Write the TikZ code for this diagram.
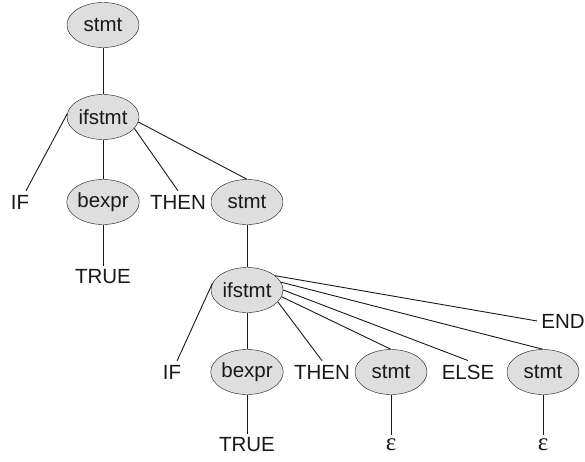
\documentclass[tikz,border=0pt]{standalone}
\usepackage{fontspec}
\setmainfont{Liberation Sans}
\newfontfamily\epsfont{Liberation Serif}
\usepackage{xcolor}
\usetikzlibrary{shapes,positioning}

\definecolor{nodegray}{RGB}{222,222,222}
\definecolor{inkgray}{RGB}{25,25,25}

\begin{document}
\begin{tikzpicture}[on grid, font=\fontsize{20.5}{24}\selectfont, color=inkgray]
            \tikzstyle{nonterm} = [ellipse, draw, fill=nodegray, minimum width=72pt, minimum height=45pt, inner sep=0pt]
            \tikzstyle{term} = [inner sep=4pt]
            \tikzstyle{edge} = [line width=0.9pt]

            \useasboundingbox (0,0) rectangle (585pt,-461pt);

            % first level
            \node [nonterm] (root) at (103pt,-25pt) {stmt};
            \node [nonterm, below=92pt of root] (if1) {ifstmt};
            \node [nonterm, below=85pt of if1] (bx1) {bexpr};
            \node [term, left=83pt of bx1] (kif1) {IF};
            \node [term, right=75pt of bx1] (kthen1) {THEN};
            \node [nonterm, right=144pt of bx1] (st2) {stmt};
            \node [term, below=75pt of bx1] (true1) {TRUE};

            % nested if
            \node [nonterm, below=88pt of st2] (if2) {ifstmt};
            \node [nonterm, below=82pt of if2] (bx2) {bexpr};
            \node [term, left=75pt of bx2] (kif2) {IF};
            \node [term, right=75pt of bx2] (kthen2) {THEN};
            \node [nonterm, right=144pt of bx2] (st3) {stmt};
            \node [term, right=221pt of bx2] (kelse) {ELSE};
            \node [nonterm, right=296pt of bx2] (st4) {stmt};
            \node [term, above right=51pt and 20pt of st4] (kend) {END};
            \node [term, below=73pt of bx2] (true2) {TRUE};
            \node [term, below=73pt of st3] (eps1) {\epsfont\fontsize{25}{28}\selectfont ε};
            \node [term, below=73pt of st4] (eps2) {\epsfont\fontsize{25}{28}\selectfont ε};

            \draw [edge] (root) -- (if1);
            \draw [edge] (if1.175) -- (kif1);
            \draw [edge] (if1) -- (bx1);
            \draw [edge] (if1.-20) -- (kthen1.north);
            \draw [edge] (if1.-8) -- (st2.north);
            \draw [edge] (bx1) -- (true1);
            \draw [edge] (st2) -- (if2);

            \draw [edge] (if2.169) -- (kif2);
            \draw [edge] (if2) -- (bx2);
            \draw [edge] (if2.-21) -- (kthen2.north);
            \draw [edge] (if2.-11) -- (st3.north);
            \draw [edge] (if2.0) -- (kelse.north);
            \draw [edge] (if2.13) -- (st4.north);
            \draw [edge] (if2.27) -- (kend.west);
            \draw [edge] (bx2) -- (true2);
            \draw [edge] (st3) -- (eps1);
            \draw [edge] (st4) -- (eps2);
        \end{tikzpicture}
\end{document}
